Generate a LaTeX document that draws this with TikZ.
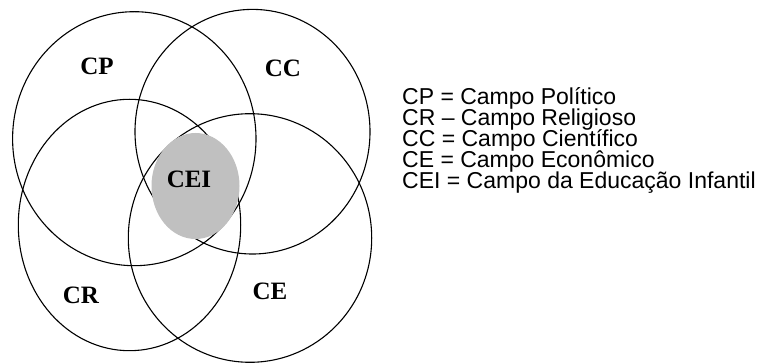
\documentclass[tikz,border=0pt]{standalone}
\usepackage{fontspec}
\setmainfont{Liberation Serif}
\newfontfamily\legendfont{Liberation Sans}
\definecolor{ceigray}{RGB}{192,192,192}
\tikzset{
  campo/.style={draw=black, line width=1.1pt},
  campolabel/.style={font=\fontsize{25}{30}\selectfont\bfseries, inner sep=0pt},
  legend/.style={font={\legendfont\fontsize{23}{21.2}\selectfont\lineskiplimit=-100pt},
    align=left, anchor=base west, inner sep=0pt}
}
\begin{document}
\begin{tikzpicture}[x=1pt, y=-1pt]
            \useasboundingbox (0,0) rectangle (777,363);

            % Circles
            \draw[campo] (134.3,138.7) ellipse [x radius=121.7pt, y radius=127pt];
            \draw[campo] (252.5,131.7) ellipse [x radius=117.5pt, y radius=122.3pt];
            \draw[campo] (129.5,225) ellipse [x radius=111.2pt, y radius=125.7pt];
            \draw[campo] (250,238) ellipse [x radius=121.7pt, y radius=124.3pt];

            % Centre
            \fill[ceigray] (195.5,186) ellipse [x radius=44pt, y radius=53pt];

            % Labels
            \node[campolabel] (cp) at (97,66.5) {CP};
            \node[campolabel] (cc) at (283,68) {CC};
            \node[campolabel] (cr) at (81,295) {CR};
            \node[campolabel] (ce) at (270,291) {CE};
            \node[campolabel] (cei) at (189,179.5) {CEI};

            % Legend (base anchor sits on the last line)
            \node[legend] (key) at (402,189) {CP = Campo Político\\
              CR – Campo Religioso\\
              CC = Campo Científico\\
              CE = Campo Econômico\\
              CEI = Campo da Educação Infantil};
        \end{tikzpicture}
\end{document}
